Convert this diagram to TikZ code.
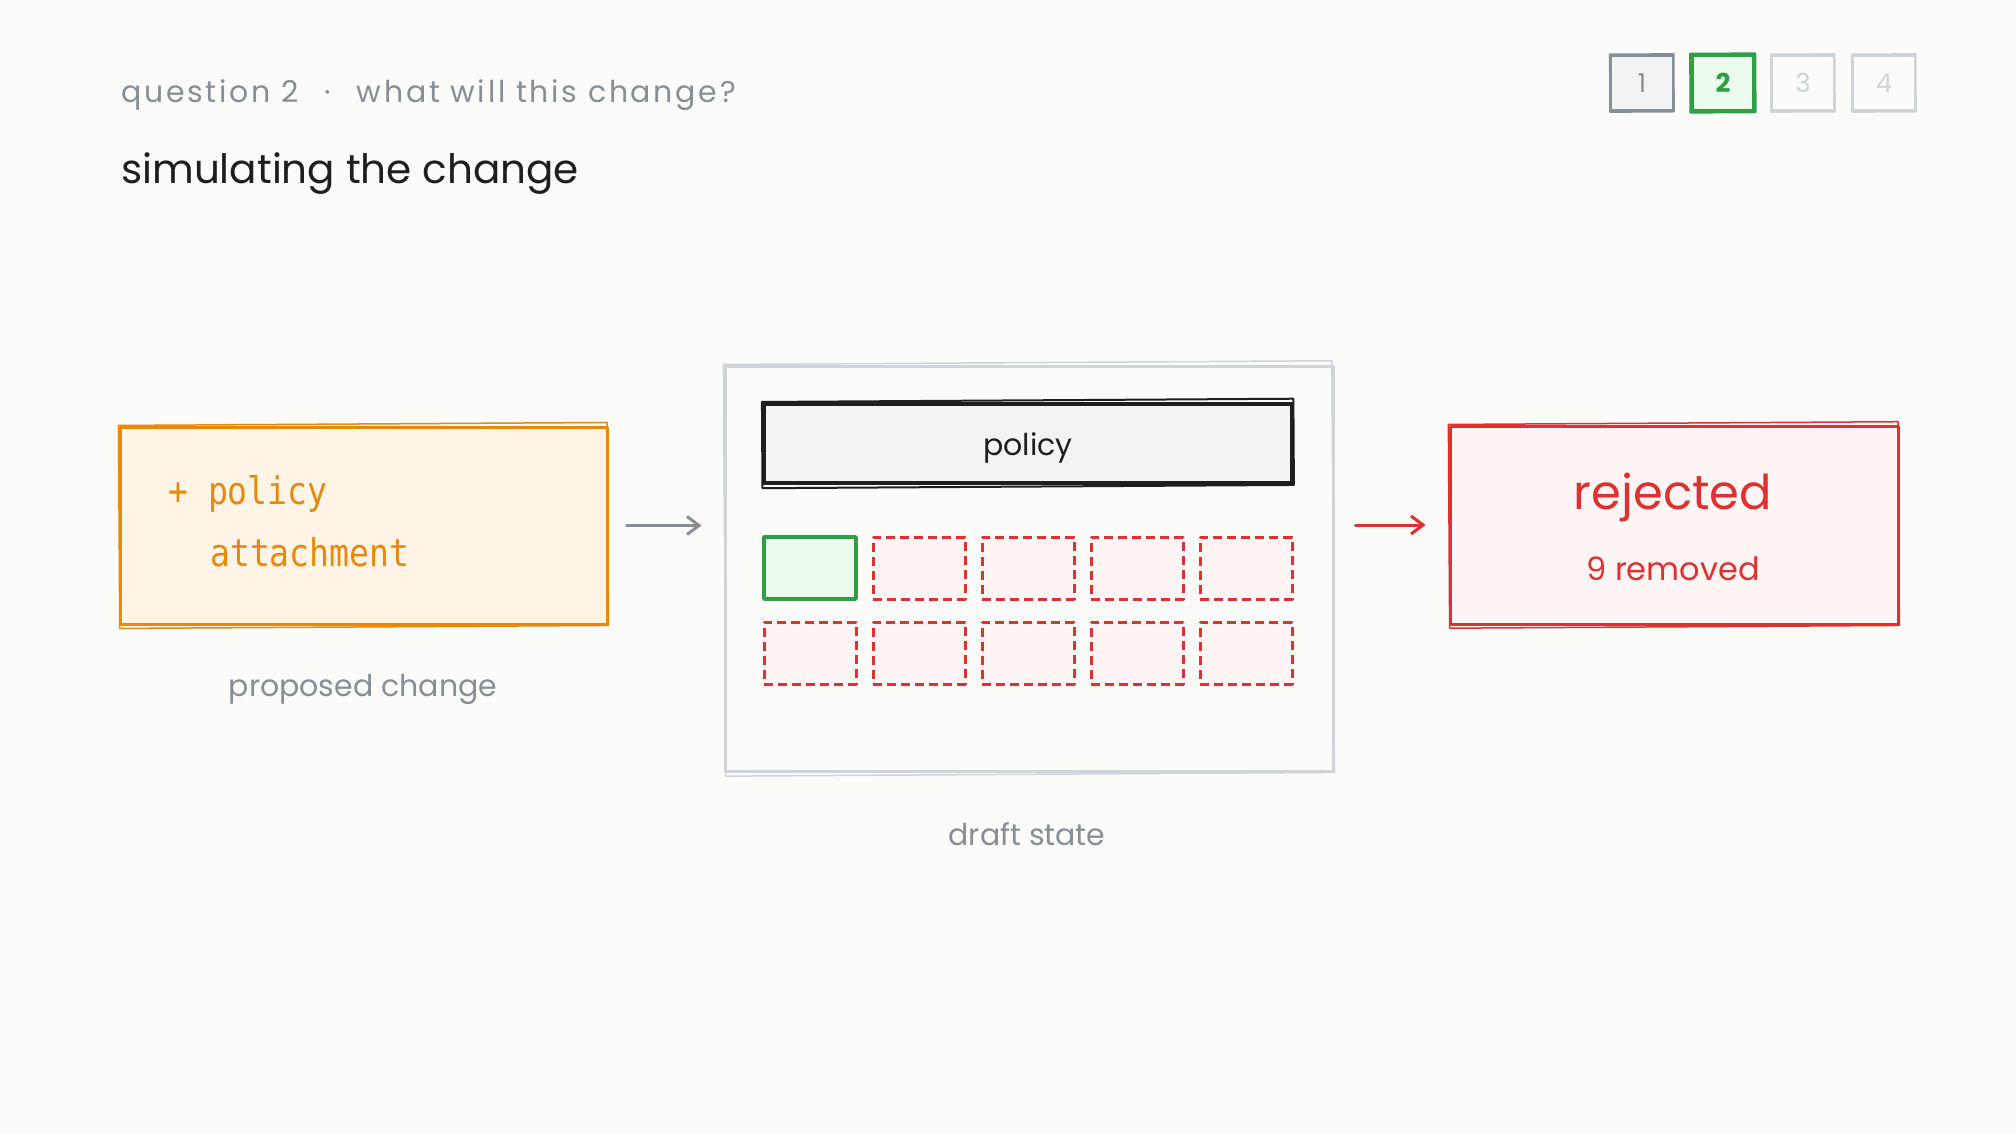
\documentclass[tikz,border=0pt]{standalone}
\usepackage{fontspec}
\setmainfont{Poppins}
\setmonofont[FakeStretch=0.87]{DejaVu Sans Mono}
\usetikzlibrary{arrows.meta,calc}
\definecolor{bg}{HTML}{FBFBFA}
\definecolor{inkgray}{HTML}{868E96}
\definecolor{lightgray}{HTML}{CED4DA}
\definecolor{ink}{HTML}{1E1E1E}
\definecolor{graybg}{HTML}{F1F3F5}
\definecolor{grn}{HTML}{2F9E44}
\definecolor{grnbg}{HTML}{EBFBEE}
\definecolor{rd}{HTML}{E03131}
\definecolor{rdbg}{HTML}{FFF5F5}
\definecolor{org}{HTML}{E8890C}
\definecolor{orgbg}{HTML}{FFF4E6}
\newcommand\fsz[1]{\fontsize{#1}{#1}\selectfont}
\newcommand\roughen[3]{\draw[#2, line width=#3, line join=round, rotate around={0.35:(#1.center)}] (#1.north west) rectangle (#1.south east);}
\begin{document}
\begin{tikzpicture}[x=1pt,y=-1pt,
  box/.style={draw, line width=3pt, inner sep=0pt, line join=round},
  lbl/.style={inner sep=0pt, text=inkgray, font=\fsz{30}},
  cell/.style={box, minimum width=92pt, minimum height=62pt},
  redcell/.style={cell, draw=rd, fill=rdbg, dash pattern=on 9pt off 5pt},
  pg/.style={box, line width=2.5pt, minimum width=62pt, minimum height=55pt, font=\fsz{26}},
  conn/.style={line width=3pt, line cap=round, -{Straight Barb[length=12pt,width=18pt,line width=3pt]}}
]
\fill[bg] (0,0) rectangle (2016,1134);
\useasboundingbox (0,0) rectangle (2016,1134);

% header texts
\node[anchor=base west, inner sep=0pt, text=inkgray, font=\fsz{30}\addfontfeatures{LetterSpace=9}] (sub) at (121,103) {question 2\hspace{26pt}·\hspace{26pt}what will this change?};
\node[anchor=base west, inner sep=0pt, text=ink, font=\fsz{40.5}] (title) at (121,184) {simulating the change};

% page indicators
\node[pg, draw=inkgray, fill=graybg, text=inkgray] (p1) at (1642,83) {1};
\node[pg, draw=grn, fill=grnbg, text=grn, line width=3.5pt, font=\fsz{26}\bfseries] (p2) at (1723,83) {2};
\node[pg, draw=lightgray, text=lightgray] (p3) at (1803,83) {3};
\node[pg, draw=lightgray, text=lightgray] (p4) at (1884,83) {4};
\roughen{p1}{inkgray}{1.5pt}
\roughen{p2}{grn}{2pt}
\roughen{p3}{lightgray}{1.5pt}
\roughen{p4}{lightgray}{1.5pt}

% proposed change
\node[box, draw=org, fill=orgbg, minimum width=487pt, minimum height=197pt] (change) at (363.5,525.5) {};
\roughen{change}{org}{1.5pt}
\node[anchor=base west, inner sep=0pt, text=org, font=\ttfamily\fsz{38}] (chA) at (168,504) {+ policy};
\node[anchor=base west, inner sep=0pt, text=org, font=\ttfamily\fsz{38}] (chB) at (210,566) {attachment};
\node[lbl] (changelbl) at (363,689) {proposed change};

% draft state
\node[box, draw=lightgray, minimum width=608pt, minimum height=405pt] (draft) at (1029,568.5) {};
\roughen{draft}{lightgray}{1.5pt}
\node[box, draw=ink, fill=graybg, line width=4pt, minimum width=528pt, minimum height=79pt] (policy) at (1028,443.5) {};
\roughen{policy}{ink}{2pt}
\node[inner sep=0pt, font=\fsz{30}, text=ink] (policytxt) at (1028,448) {policy};
\node[cell, draw=grn, fill=grnbg, line width=3.5pt] (c11) at (810,568) {};
\node[redcell] (c12) at (919,568) {};
\node[redcell] (c13) at (1028,568) {};
\node[redcell] (c14) at (1137,568) {};
\node[redcell] (c15) at (1246,568) {};
\node[redcell] (c21) at (810,653) {};
\node[redcell] (c22) at (919,653) {};
\node[redcell] (c23) at (1028,653) {};
\node[redcell] (c24) at (1137,653) {};
\node[redcell] (c25) at (1246,653) {};
\node[lbl] (draftlbl) at (1027,834) {draft state};

% rejected
\node[box, draw=rd, fill=rdbg, minimum width=448pt, minimum height=198pt] (rej) at (1674,525) {};
\roughen{rej}{rd}{1.5pt}
\node[inner sep=0pt, text=rd, font=\fsz{48}] (rejA) at (1673,497) {rejected};
\node[inner sep=0pt, text=rd, font=\fsz{32}] (rejB) at (1673,569) {9 removed};

% connectors
\draw[conn, draw=inkgray, line width=2.5pt, shorten <=18pt, shorten >=22pt] (change.east) -- (change.east -| draft.west);
\draw[conn, draw=rd, shorten <=21pt, shorten >=23pt] (rej.west -| draft.east) -- (rej.west);
\end{tikzpicture}
\end{document}
